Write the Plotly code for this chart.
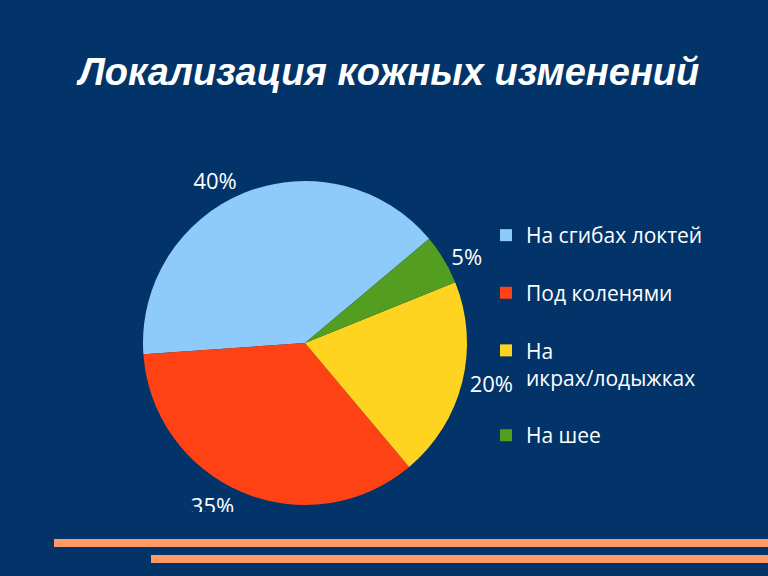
import plotly.graph_objects as go

# Data
categories = ["На сгибах локтей", "Под коленями", "На<br>икрах/лодыжках", "На шее"]
values = [40, 35, 20, 5]
colors = ["#8ECBFB", "#FF4214", "#FFD420", "#539E20"]

BG = "#02346A"
ORANGE = "#FF9966"

legend_labels = [c + "<br> " for c in categories]

fig = go.Figure()
fig.add_trace(go.Pie(
    labels=legend_labels,
    values=values,
    sort=False,
    direction="counterclockwise",
    rotation=266,
    marker=dict(colors=colors, line=dict(width=0)),
    textinfo="percent",
    textposition="outside",
    texttemplate="%{percent:.0%}",
    outsidetextfont=dict(family="Open Sans", size=22, color="white"),
    domain=dict(x=[143/768, 467/768], y=[1-505/576, 1-181/576]),
    hoverinfo="label+percent",
))

fig.update_layout(
    width=768, height=576,
    margin=dict(l=0, r=0, t=0, b=0),
    paper_bgcolor=BG, plot_bgcolor=BG,
    title=dict(
        text="<b><i>Локализация кожных изменений</i></b>",
        font=dict(family="Liberation Sans", size=38, color="white"),
        x=389/768, xanchor="center",
        y=1-72/576, yanchor="middle",
    ),
    legend=dict(
        x=486/768, xanchor="left",
        y=1-215/576, yanchor="top",
        font=dict(family="Open Sans", size=21, color="white"),
        valign="top",
        bgcolor="rgba(0,0,0,0)",
        tracegroupgap=0,
    ),
    shapes=[
        dict(type="rect", xref="paper", yref="paper", layer="above",
             x0=0, x1=1, y0=1-530/576, y1=1-512/576,
             fillcolor=BG, line=dict(width=0)),
        dict(type="rect", xref="paper", yref="paper", layer="above",
             x0=54/768, x1=1, y0=1-547/576, y1=1-539/576,
             fillcolor=ORANGE, line=dict(width=0)),
        dict(type="rect", xref="paper", yref="paper", layer="above",
             x0=151/768, x1=1, y0=1-563/576, y1=1-555/576,
             fillcolor=ORANGE, line=dict(width=0)),
    ],
)

fig.write_html("out.html")
